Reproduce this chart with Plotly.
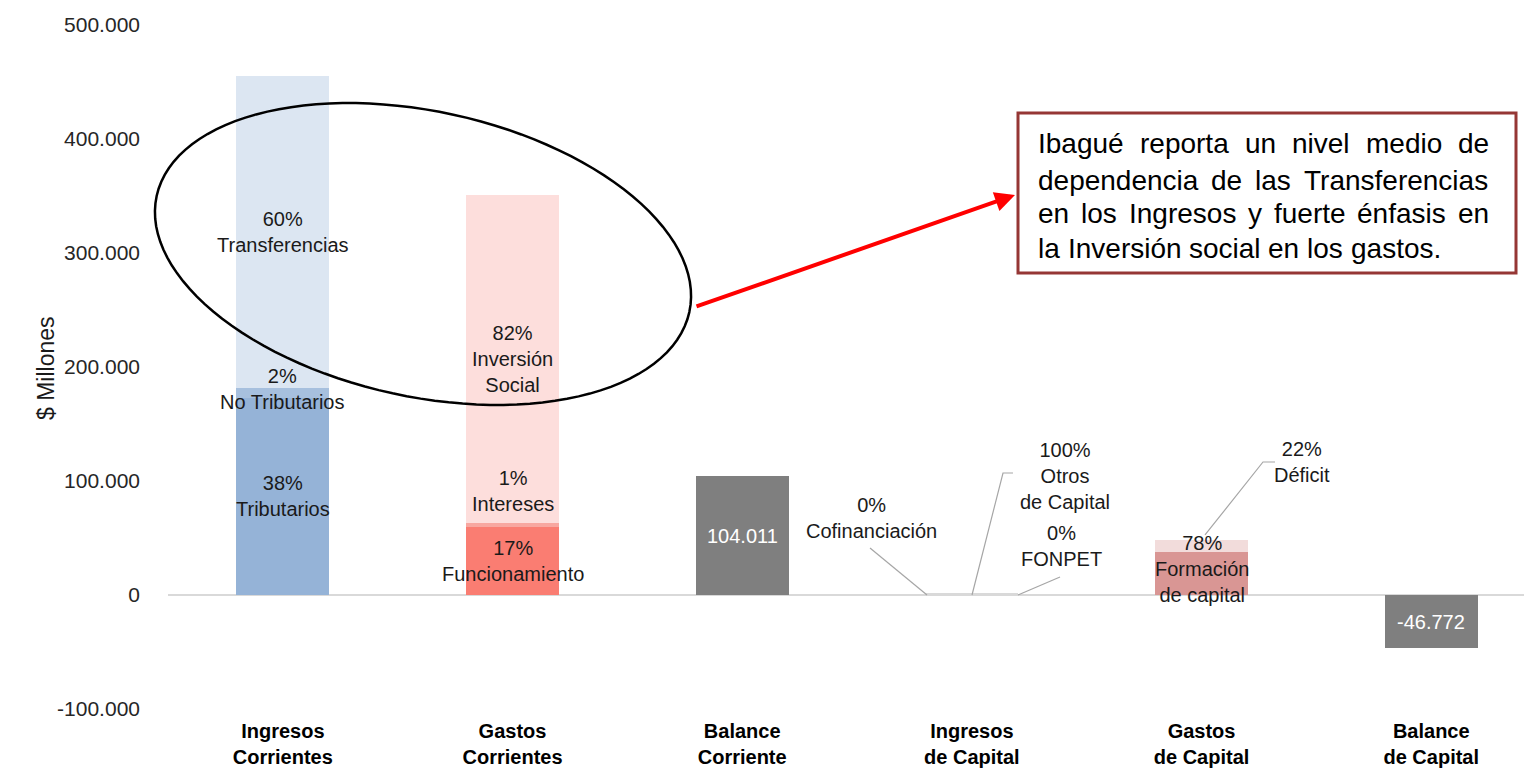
import math
import plotly.graph_objects as go

# ---------------- data ----------------
categories = ["Ingresos Corrientes", "Gastos Corrientes", "Balance Corriente",
              "Ingresos de Capital", "Gastos de Capital", "Balance de Capital"]
category_labels = ["Ingresos<br>Corrientes", "Gastos<br>Corrientes", "Balance<br>Corriente",
                   "Ingresos<br>de Capital", "Gastos<br>de Capital", "Balance<br>de Capital"]

ing_corr_labels = ["Tributarios", "No Tributarios", "Transferencias"]
ing_corr_values = [172900, 9100, 273000]

gas_corr_labels = ["Funcionamiento", "Intereses", "Inversión<br>Social"]
gas_corr_values = [59700, 3500, 287789]

balance_corriente = 104011

ing_cap_labels = ["Cofinanciación", "Otros<br>de Capital", "FONPET"]
ing_cap_values = [0, 1228, 0]

gas_cap_labels = ["Formación<br>de capital", "Déficit"]
gas_cap_values = [37440, 10560]

balance_capital = -46772

y_tickvals = [-100000, 0, 100000, 200000, 300000, 400000, 500000]
y_ticktext = ["-100.000", "0", "100.000", "200.000", "300.000", "400.000", "500.000"]

note_lines = ["Ibagué reporta un nivel medio de",
              "dependencia de las Transferencias",
              "en los Ingresos y fuerte énfasis en",
              "la Inversión social en los gastos."]

# ---------------- styles ----------------
NARROW = "Liberation Sans Narrow, Arial Narrow, Liberation Sans, Arial, sans-serif"
ARIAL = "Liberation Sans, Arial, sans-serif"
BAR_W = 0.405
ing_corr_colors = ["#95B3D7", "#A7C0DE", "#DCE6F2"]
gas_corr_colors = ["#FA7D72", "#F8A7A0", "#FDDEDC"]
ing_cap_colors = ["#95B3D7", "#D9D9D9", "#DCE6F2"]
gas_cap_colors = ["#D99694", "#F2DCDB"]
GRAY = "#7F7F7F"

OFF = 8  # page body margin
W, H = 1532 - OFF, 771 - OFF
# plot area in reference (screen) pixels
RL, RR, RT, RB = 168, 1530, 25, 709


def pxp(x):
    return (x - RL) / (RR - RL)


def pyp(y):
    return (RB - y) / (RB - RT)


fig = go.Figure()
annotations = []


def fmt_thousands(v):
    s = f"{abs(v):,}".replace(",", ".")
    return ("-" if v < 0 else "") + s


def add_stack(cat, labels, values, colors, shifts):
    total = sum(values)
    base = 0
    for lab, val, col, (xs, ys) in zip(labels, values, colors, shifts):
        fig.add_trace(go.Bar(x=[cat], y=[val], width=BAR_W, marker=dict(color=col, line=dict(width=0)),
                             name=lab, showlegend=False, hoverinfo="skip"))
        pct = round(100 * val / total) if total else 0
        annotations.append(dict(x=cat, y=base + val / 2, xref="x", yref="y",
                                text=f"{pct}%<br>{lab}", showarrow=False,
                                xshift=xs, yshift=ys,
                                font=dict(family=NARROW, size=20, color="#1A1A1A")))
        base += val


add_stack(categories[0], ing_corr_labels, ing_corr_values, ing_corr_colors, [(0, 0), (0, 4), (0, 0)])
add_stack(categories[1], gas_corr_labels, gas_corr_values, gas_corr_colors, [(0, 0), (0, 34), (0, 0)])
add_stack(categories[3], ing_cap_labels, ing_cap_values, ing_cap_colors, [(-100, 77), (93, 118), (90, 48)])
add_stack(categories[4], gas_cap_labels, gas_cap_values, gas_cap_colors, [(0, 5), (100, 84)])

for cat, val in [(categories[2], balance_corriente), (categories[5], balance_capital)]:
    fig.add_trace(go.Bar(x=[cat], y=[val], width=BAR_W, marker=dict(color=GRAY, line=dict(width=0)),
                         showlegend=False, hoverinfo="skip"))
    annotations.append(dict(x=cat, y=val / 2, xref="x", yref="y", text=fmt_thousands(val),
                            showarrow=False, font=dict(family=NARROW, size=20, color="white")))

# y-axis title
annotations.append(dict(x=pxp(31), y=pyp(368), xref="paper", yref="paper", text="$ Millones",
                        textangle=-90, showarrow=False,
                        font=dict(family=NARROW, size=23, color="#1A1A1A")))

# red arrow
annotations.append(dict(x=pxp(1015), y=pyp(195), xref="paper", yref="paper", text="",
                        showarrow=True, ax=-320, ay=112, arrowcolor="#FF0000", arrowwidth=4,
                        arrowhead=2, arrowsize=1))

# justified note text (Arial metrics)
AW = {' ': 278, 'a': 556, 'b': 556, 'c': 500, 'd': 556, 'e': 556, 'f': 278, 'g': 556, 'h': 556,
      'i': 222, 'j': 222, 'k': 500, 'l': 222, 'm': 833, 'n': 556, 'o': 556, 'p': 556, 'q': 556,
      'r': 333, 's': 500, 't': 278, 'u': 556, 'v': 500, 'w': 722, 'x': 500, 'y': 500, 'z': 500,
      'I': 278, 'T': 611, '.': 278, 'é': 556, 'ó': 556}
FS = 28
TX0, TX1 = 1037, 1488
line_y = [143, 180, 214, 248]


def wwidth(w):
    return sum(AW.get(c, 556) for c in w) * FS / 1000.0


for i, line in enumerate(note_lines):
    words = line.split(" ")
    widths = [wwidth(w) for w in words]
    if i < len(note_lines) - 1:
        gap = (TX1 - TX0 - sum(widths)) / (len(words) - 1)
    else:
        gap = AW[' '] * FS / 1000.0
    x = TX0
    for w, ww in zip(words, widths):
        annotations.append(dict(x=pxp(x), y=pyp(line_y[i]), xref="paper", yref="paper", text=w,
                                showarrow=False, xanchor="left", yanchor="middle", borderpad=0,
                                font=dict(family=ARIAL, size=FS, color="#000000")))
        x += ww + gap

shapes = []
# note box
shapes.append(dict(type="rect", xref="paper", yref="paper", x0=pxp(1018), x1=pxp(1516),
                   y0=pyp(113), y1=pyp(273), line=dict(color="#953735", width=3),
                   fillcolor="rgba(255,255,255,0)", layer="below"))

# ellipse
cx, cy, a, b, th = 423, 254, 272.6, 142.6, math.radians(12.3)
pts = []
for k in range(0, 121):
    t = 2 * math.pi * k / 120
    ex = cx + a * math.cos(t) * math.cos(th) - b * math.sin(t) * math.sin(th)
    ey = cy + a * math.cos(t) * math.sin(th) + b * math.sin(t) * math.cos(th)
    pts.append((pxp(ex), pyp(ey)))
path = "M " + " L ".join(f"{x:.5f},{y:.5f}" for x, y in pts) + " Z"
shapes.append(dict(type="path", xref="paper", yref="paper", path=path,
                   line=dict(color="#000000", width=2.5), fillcolor="rgba(0,0,0,0)"))

# leader lines
leaders = [[(870, 548), (927, 595)],
           [(1013, 473), (1003, 473), (972, 595)],
           [(1060, 577), (1018, 595)],
           [(1275, 462), (1263, 462), (1205, 535)]]
for ln in leaders:
    p = "M " + " L ".join(f"{pxp(x):.5f},{pyp(y):.5f}" for x, y in ln)
    shapes.append(dict(type="path", xref="paper", yref="paper", path=p,
                       line=dict(color="#A6A6A6", width=1.2)))

fig.update_layout(
    width=W, height=H,
    barmode="relative",
    bargap=0,
    plot_bgcolor="white", paper_bgcolor="white",
    margin=dict(l=RL - OFF, r=W - (RR - OFF), t=RT - OFF, b=H - (RB - OFF)),
    showlegend=False,
    annotations=annotations,
    shapes=shapes,
    xaxis=dict(type="category", categoryorder="array", categoryarray=categories,
               range=[-0.5, 5.43], tickvals=categories, ticktext=[f"<b>{c}</b>" for c in category_labels],
               tickfont=dict(family=NARROW, size=20, color="#000000"), showgrid=False,
               showline=False, ticks="", ticklabelstandoff=8),
    yaxis=dict(range=[-100000, 500000], tickvals=y_tickvals, ticktext=y_ticktext,
               tickfont=dict(family=ARIAL, size=21, color="#262626"), showgrid=False,
               zeroline=True, zerolinecolor="#D9D9D9", zerolinewidth=2, showline=False,
               ticks="", ticklabelstandoff=27),
)

fig.write_html("out.html")
